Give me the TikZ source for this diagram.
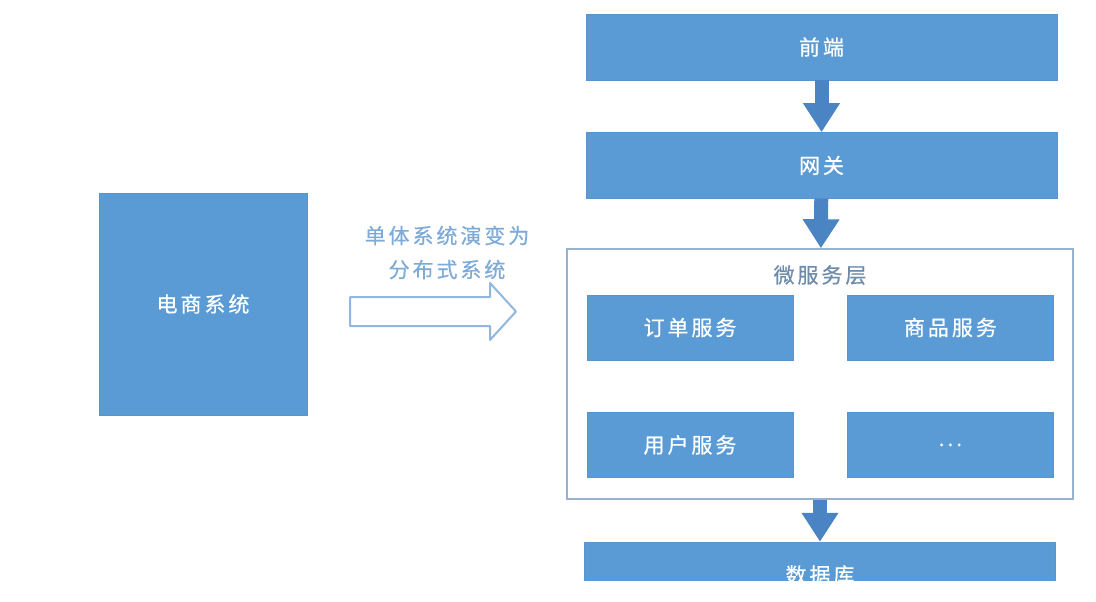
\documentclass[tikz,border=0pt]{standalone}
\usepackage{fontspec}
\usepackage{tikz}
\usetikzlibrary{arrows.meta, positioning}
\newfontfamily\cjk[LetterSpace=14, FakeBold=0.6]{Noto Sans CJK SC}
\definecolor{boxblue}{HTML}{5B9BD5}
\definecolor{boxedge}{HTML}{5A94CC}
\definecolor{flowblue}{HTML}{4A84C2}
\definecolor{layeredge}{HTML}{98B2CE}
\definecolor{titlegray}{HTML}{6F8DAA}
\definecolor{notetext}{HTML}{7EAAD8}
\definecolor{hollowedge}{HTML}{93B6DE}
\tikzstyle{tier}=[rectangle, draw=boxedge, fill=boxblue, text=white, minimum width=471pt, minimum height=66pt, inner sep=0pt]
\tikzstyle{service}=[rectangle, draw=boxedge, fill=boxblue, text=white, minimum width=206pt, minimum height=65pt, inner sep=0pt]
\tikzstyle{flow}=[draw=flowblue, line width=14pt, -{Triangle[length=29pt, width=35pt]}]

\begin{document}
\begin{tikzpicture}[x=1pt, y=1pt, node distance=52pt, font=\cjk\fontsize{21}{25}\selectfont]
          \useasboundingbox (0,0) rectangle (1096,-602);
          % monolith
          \node[rectangle, draw=boxedge, fill=boxblue, text=white, minimum width=208pt, minimum height=222pt] (shop) at (203,-304) {电商系统};
          \node[text=notetext, align=center] (note) at (447,-252.5) {单体系统演变为\\[9pt]分布式系统};
          \draw[hollowedge, fill=white, line width=2pt, line join=round]
                (350,-297) -- (490,-297) -- (490,-283) -- (516,-311.5) -- (490,-340) -- (490,-326) -- (350,-326) -- cycle;

          % distributed
          \node[tier] (front) at (821.5,-47) {前端};
          \node[tier] (gate) [below=of front] {网关};
          \node[rectangle, draw=layeredge, line width=1.5pt, fill=white, minimum width=506pt, minimum height=250pt] (micro) at (820,-374) {};
          \node[text=titlegray] (mtitle) at (820,-275) {微服务层};
          \node[service] (order) at (690,-327.5) {订单服务};
          \node[service] (goods) [right=54pt of order] {商品服务};
          \node[service] (user) [below=52pt of order] {用户服务};
          \node[service] (more) [below=52pt of goods] {...};
          \begin{scope}
            \clip (0,0) rectangle (1096,-580);
            \node[tier] (db) [below=42pt of micro] {数据库};
          \end{scope}

          \draw[flow] (front) -- (gate);
          \draw[flow] (gate) -- (micro);
          \draw[flow] (micro) -- (db);
        \end{tikzpicture}
\end{document}
